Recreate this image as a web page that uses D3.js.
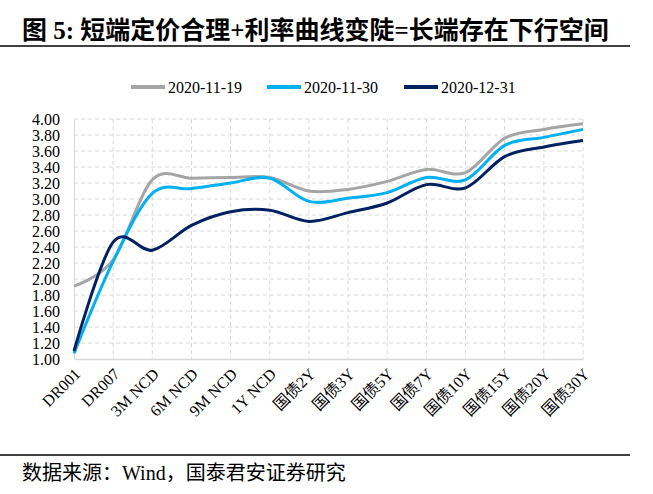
<!DOCTYPE html>
<html>
<head>
<meta charset="utf-8">
<script src="https://cdn.jsdelivr.net/npm/d3@7"></script>
<style>
    body { margin: 0; background: #fff; }
    text { font-family: "Liberation Serif", "Noto Sans CJK SC", serif; }
</style>
</head>
<body>
<div id="chart"></div>
<script>
// categories and yields
const categories = ["DR001", "DR007", "3M NCD", "6M NCD", "9M NCD", "1Y NCD",
    "国债2Y", "国债3Y", "国债5Y", "国债7Y", "国债10Y", "国债15Y", "国债20Y", "国债30Y"];
const seriesNames = ["2020-11-19", "2020-11-30", "2020-12-31"];
const seriesColors = ["#a5a5a5", "#00b0f0", "#002060"];
const nov19 = [1.91, 2.24, 3.24, 3.26, 3.27, 3.27, 3.10, 3.12, 3.22, 3.37, 3.33, 3.76, 3.87, 3.94];
const nov30 = [1.07, 2.22, 3.07, 3.13, 3.20, 3.26, 2.97, 3.01, 3.08, 3.27, 3.24, 3.67, 3.77, 3.87];
const dec31 = [1.10, 2.46, 2.36, 2.67, 2.84, 2.86, 2.72, 2.83, 2.95, 3.18, 3.14, 3.53, 3.65, 3.73];
const yTicks = d3.range(1, 4.001, 0.2);

const width = 653, height = 494;
const svg = d3.select("#chart").append("svg")
    .attr("width", width)
    .attr("height", height);

// title and rules
svg.append("text")
    .attr("x", 22).attr("y", 39)
    .attr("font-size", 25).attr("font-weight", "bold")
    .text("图 5: 短端定价合理+利率曲线变陡=长端存在下行空间");
svg.append("line").attr("x1", 0).attr("x2", 630).attr("y1", 46).attr("y2", 46)
    .attr("stroke", "#000").attr("stroke-width", 1.5);
svg.append("line").attr("x1", 0).attr("x2", 630).attr("y1", 455).attr("y2", 455)
    .attr("stroke", "#000").attr("stroke-width", 1.5);
svg.append("text")
    .attr("x", 22).attr("y", 480)
    .attr("font-size", 20)
    .text("数据来源：Wind，国泰君安证券研究");

const x = d3.scalePoint().domain(categories).range([74, 583]);
const y = d3.scaleLinear().domain([1, 4]).range([359, 119]);

const g = svg.append("g");

// dashed grid
g.selectAll(".hgrid").data(yTicks.slice(1))
    .enter().append("line")
    .attr("x1", 74).attr("x2", 583)
    .attr("y1", d => y(d)).attr("y2", d => y(d))
    .attr("stroke", "#d9d9d9").attr("stroke-dasharray", "4,3");
g.selectAll(".vgrid").data(categories.slice(1))
    .enter().append("line")
    .attr("x1", d => x(d)).attr("x2", d => x(d))
    .attr("y1", 119).attr("y2", 359)
    .attr("stroke", "#d9d9d9").attr("stroke-dasharray", "4,3");

// axes
const yAxis = g.append("g")
    .attr("transform", "translate(74,0)")
    .call(d3.axisLeft(y).tickValues(yTicks).tickFormat(d3.format(".2f")).tickSize(0).tickPadding(14));
yAxis.select(".domain").attr("stroke", "#d9d9d9");
yAxis.selectAll("text").attr("font-size", 16).attr("fill", "#000");

const xAxis = g.append("g")
    .attr("transform", "translate(0,359)")
    .call(d3.axisBottom(x).tickSize(0).tickPadding(0));
xAxis.select(".domain").attr("stroke", "#d9d9d9").attr("stroke-width", 1.5);
xAxis.selectAll("text")
    .attr("font-size", 16).attr("fill", "#000")
    .attr("text-anchor", "end")
    .attr("dy", 0)
    .attr("transform", "translate(7,16) rotate(-45)");

// lines
const allSeries = [nov19, nov30, dec31];
const line = d3.line()
    .x((d, i) => x(categories[i]))
    .y(d => y(d))
    .curve(d3.curveCardinal.tension(0));

g.selectAll(".series").data(allSeries)
    .enter().append("path")
    .attr("d", d => line(d))
    .attr("fill", "none")
    .attr("stroke", (d, i) => seriesColors[i])
    .attr("stroke-width", 3);

// legend
const legendX = [131, 267, 404];
const legend = svg.selectAll(".legend").data(seriesNames)
    .enter().append("g")
    .attr("transform", (d, i) => `translate(${legendX[i]},87)`);
legend.append("line")
    .attr("x1", 0).attr("x2", 34)
    .attr("stroke", (d, i) => seriesColors[i])
    .attr("stroke-width", 4);
legend.append("text")
    .attr("x", 37).attr("y", 5.5)
    .attr("font-size", 16)
    .text(d => d);
</script>
</body>
</html>
